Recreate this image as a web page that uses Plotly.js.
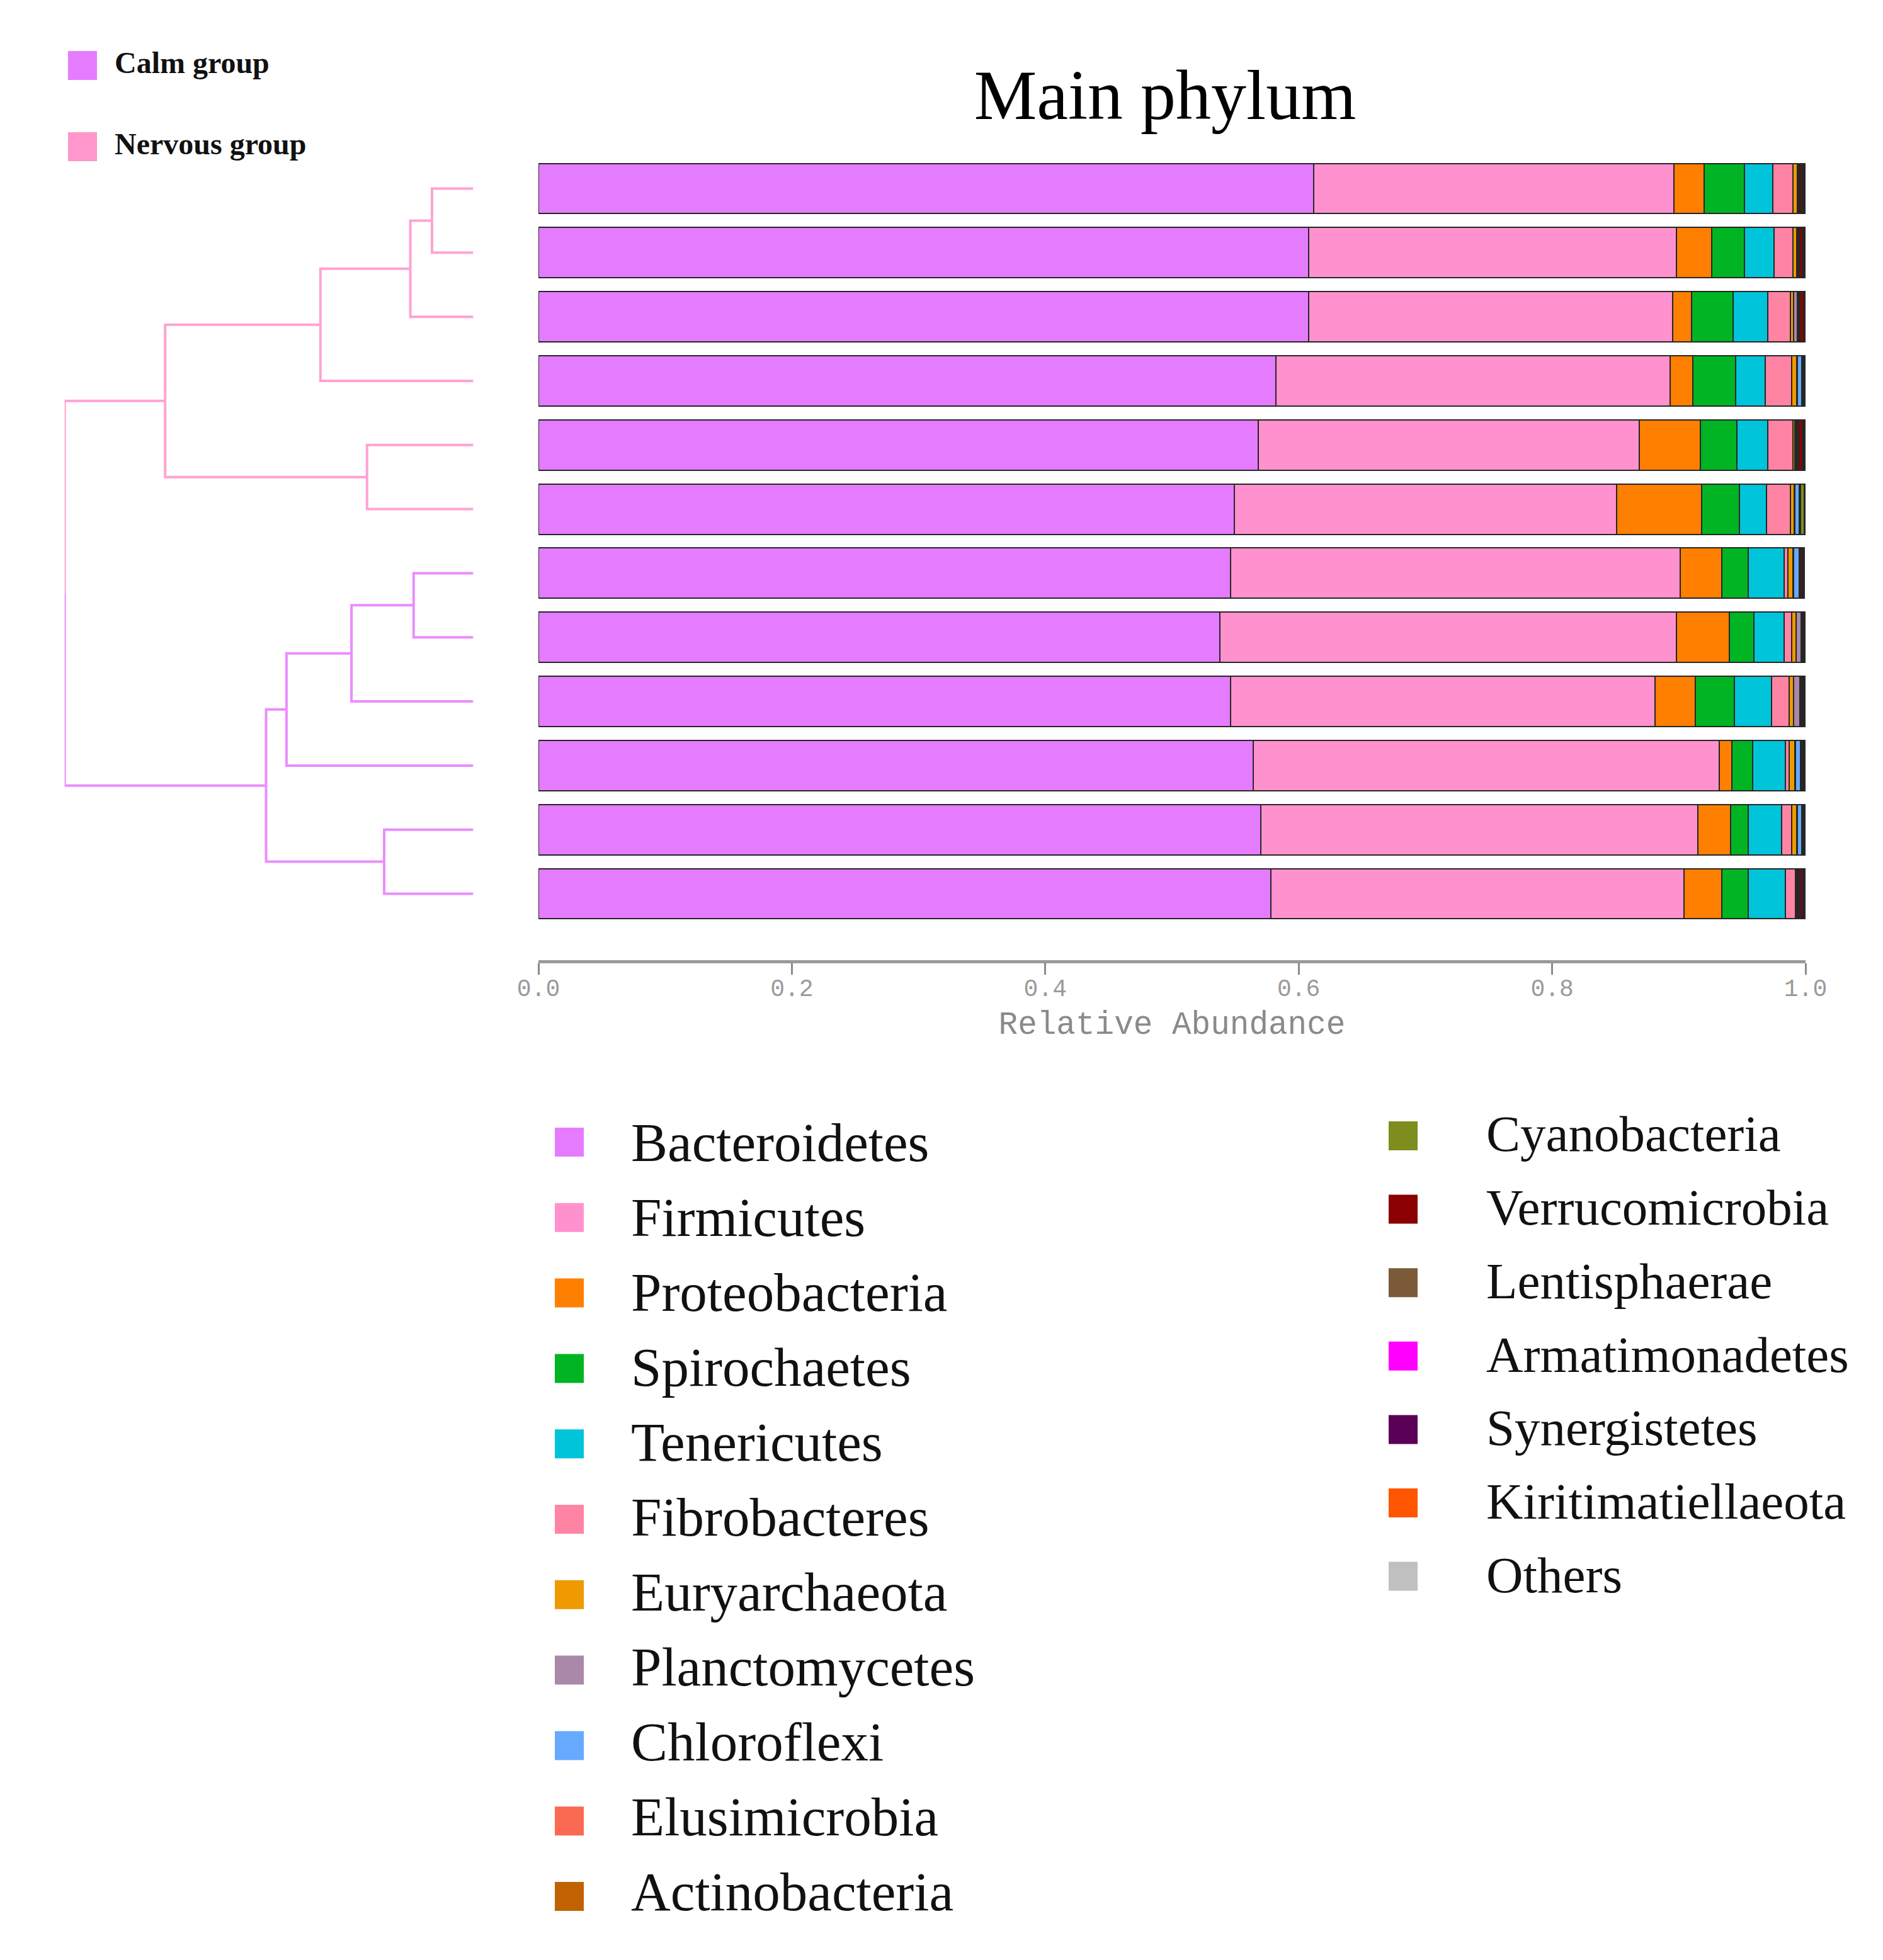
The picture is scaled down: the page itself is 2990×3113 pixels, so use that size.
<!DOCTYPE html>
<html><head><meta charset="utf-8">
<script src="https://cdn.plot.ly/plotly-3.0.1.min.js"></script>
<style>html,body{margin:0;padding:0;background:#fff}</style>
</head><body>
<div id="chart" style="width:2990px;height:3113px"></div>
<script>
// ---------- data ----------
const samples = ['S1','S2','S3','S4','S5','S6','S7','S8','S9','S10','S11','S12'];
const leafGroup = ['Nervous group','Nervous group','Nervous group','Nervous group','Nervous group','Nervous group',
                   'Calm group','Calm group','Calm group','Calm group','Calm group','Calm group'];

const phyla = ['Bacteroidetes','Firmicutes','Proteobacteria','Spirochaetes','Tenericutes','Fibrobacteres',
  'Euryarchaeota','Planctomycetes','Chloroflexi','Elusimicrobia','Actinobacteria','Cyanobacteria',
  'Verrucomicrobia','Lentisphaerae','Armatimonadetes','Synergistetes','Kiritimatiellaeota','Others'];
const phylaColors = ['#E57CFF','#FF92CE','#FF7F00','#00B424','#00C4DA','#FF84A4',
  '#EE9A00','#A988A9','#66AAFF','#FA6A52','#C16200','#7D8E1E',
  '#8B0000','#7B5B3A','#FF00FF','#5B0057','#FF5500','#C0C0C0'];

const bacteroidetes   = [.612,.608,.608,.582,.568,.549,.546,.538,.546,.564,.570,.578];
const firmicutes      = [.284,.290,.287,.311,.301,.302,.355,.360,.335,.368,.345,.326];
const proteobacteria  = [.024,.028,.015,.018,.048,.067,.033,.042,.032,.010,.026,.030];
const spirochaetes    = [.032,.026,.033,.034,.029,.030,.021,.019,.031,.016,.014,.021];
const tenericutes     = [.022,.023,.027,.023,.024,.021,.028,.024,.029,.026,.026,.029];
const fibrobacteres   = [.016,.015,.018,.021,.020,.019,.003,.006,.014,.003,.008,.008];
const euryarchaeota   = [.0033,.0028,.0025,.0040,.0015,.0030,.0040,.0035,.0038,.0045,.0040,.0008];
const planctomycetes  = [.0006,.0005,.0030,.0005,.0008,.0006,.0005,.0040,.0045,.0005,.0004,.0005];
const chloroflexi     = [.0006,.0005,.0005,.0035,.0006,.0035,.0045,.0005,.0005,.0040,.0035,.0005];
const elusimicrobia   = [.0005,.0004,.0005,.0004,.0005,.0004,.0004,.0003,.0004,.0004,.0003,.0004];
const actinobacteria  = [.0006,.0006,.0005,.0004,.0008,.0004,.0005,.0005,.0005,.0005,.0004,.0005];
const cyanobacteria   = [.0003,.0003,.0003,.0002,.0004,.0030,.0003,.0002,.0002,.0003,.0002,.0003];
const verrucomicrobia = [.0018,.0025,.0030,.0006,.0030,.0004,.0011,.0006,.0010,.0010,.0008,.0020];
const lentisphaerae   = [.0004,.0005,.0005,.0003,.0006,.0002,.0003,.0003,.0003,.0003,.0002,.0005];
const armatimonadetes = [.0002,.0001,.0002,.0001,.0001,.0001,.0001,.0001,.0001,.0001,.0001,.0002];
const synergistetes   = [.0010,.0010,.0007,.0005,.0010,.0002,.0010,.0006,.0010,.0008,.0006,.0015];
const kiritimatiellaeota = [.0002,.0002,.0001,.0001,.0002,.0001,.0002,.0001,.0002,.0002,.0001,.0003];
const others          = [.0005,.0006,.0002,.0004,.0005,.0001,.0003,.0003,.0005,.0004,.0004,.0005];

// dendrogram merges: children ids (leaves 0..11, merge k -> id 12+k) and merge heights
const dendroLeft   = [0, 12, 13, 4, 14, 6, 17, 18, 10, 19, 16];
const dendroRight  = [1, 2, 3, 5, 15, 7, 8, 9, 11, 20, 21];
const dendroHeight = [0.101, 0.154, 0.374, 0.260, 0.754, 0.146, 0.298, 0.457, 0.218, 0.507, 1.0];

const tickVals   = [0, 0.2, 0.4, 0.6, 0.8, 1.0];
const tickLabels = ['0.0','0.2','0.4','0.6','0.8','1.0'];

const groupNames  = ['Calm group','Nervous group'];
const groupColors = ['#E57CFF','#FF97CC'];
const groupLineColors = {'Nervous group':'#FFA3D3', 'Calm group':'#EC8CFF'};

// legend split: first column / second column
const legendCol1 = 11;

// ---------- build ----------
const W = 2990, H = 3113;
const series = [bacteroidetes, firmicutes, proteobacteria, spirochaetes, tenericutes, fibrobacteres,
  euryarchaeota, planctomycetes, chloroflexi, elusimicrobia, actinobacteria, cyanobacteria,
  verrucomicrobia, lentisphaerae, armatimonadetes, synergistetes, kiritimatiellaeota, others];

const traces = [];
phyla.forEach((p, i) => {
  traces.push({
    type: 'bar', orientation: 'h', name: p,
    x: series[i], y: samples,
    xaxis: 'x', yaxis: 'y',
    marker: {color: phylaColors[i], line: {color: '#262626', width: 2}},
    hoverinfo: 'skip', showlegend: false
  });
});

// dendrogram geometry from merges
const nL = samples.length;
const posY = samples.map((_, i) => i);
const posH = samples.map(() => 0);
const grp = leafGroup.slice();
const segs = {};
groupNames.forEach(g => segs[g] = {x: [], y: []});
dendroLeft.forEach((a, k) => {
  const b = dendroRight[k], id = nL + k, h = dendroHeight[k];
  posY[id] = (posY[a] + posY[b]) / 2;
  posH[id] = h;
  grp[id] = grp[a];
  [a, b].forEach(c => {
    const s = segs[grp[c]];
    s.x.push(posH[c], h, h, null);
    s.y.push(posY[c], posY[c], posY[id], null);
  });
});
groupNames.forEach(g => {
  traces.push({
    type: 'scatter', mode: 'lines', name: g,
    x: segs[g].x, y: segs[g].y, xaxis: 'x2', yaxis: 'y2',
    line: {color: groupLineColors[g], width: 4},
    hoverinfo: 'skip', showlegend: false
  });
});

// custom legends on a pixel overlay axis
const serif = 'Liberation Serif, Times New Roman, serif';
const col1Idx = phyla.slice(0, legendCol1).map((_, i) => i);
const col2Idx = phyla.slice(legendCol1).map((_, i) => i);
traces.push({
  type: 'scatter', mode: 'markers', xaxis: 'x3', yaxis: 'y3',
  x: col1Idx.map(() => 904), y: col1Idx.map(i => 1814 + i * 119.8),
  marker: {symbol: 'square', size: 46, color: phylaColors.slice(0, legendCol1), line: {width: 0}},
  hoverinfo: 'skip', showlegend: false
});
traces.push({
  type: 'scatter', mode: 'text', xaxis: 'x3', yaxis: 'y3',
  x: col1Idx.map(() => 1002), y: col1Idx.map(i => 1822 + i * 119.0),
  text: phyla.slice(0, legendCol1), textposition: 'middle right',
  textfont: {family: serif, size: 87, color: '#111'},
  hoverinfo: 'skip', showlegend: false
});
traces.push({
  type: 'scatter', mode: 'markers', xaxis: 'x3', yaxis: 'y3',
  x: col2Idx.map(() => 2228), y: col2Idx.map(i => 1804 + i * 116.6),
  marker: {symbol: 'square', size: 46, color: phylaColors.slice(legendCol1), line: {width: 0}},
  hoverinfo: 'skip', showlegend: false
});
traces.push({
  type: 'scatter', mode: 'text', xaxis: 'x3', yaxis: 'y3',
  x: col2Idx.map(() => 2360), y: col2Idx.map(i => 1808 + i * 116.8),
  text: phyla.slice(legendCol1), textposition: 'middle right',
  textfont: {family: serif, size: 81, color: '#111'},
  hoverinfo: 'skip', showlegend: false
});
// group legend
const groupRows = groupNames.map((_, i) => 104 + i * 129);
traces.push({
  type: 'scatter', mode: 'markers', xaxis: 'x3', yaxis: 'y3',
  x: groupNames.map(() => 131), y: groupRows,
  marker: {symbol: 'square', size: 46, color: groupColors, line: {width: 0}},
  hoverinfo: 'skip', showlegend: false
});
traces.push({
  type: 'scatter', mode: 'text', xaxis: 'x3', yaxis: 'y3',
  x: groupNames.map(() => 182), y: groupRows,
  text: groupNames, textposition: 'middle right',
  textfont: {family: serif, size: 48, color: '#111', weight: 'bold'},
  hoverinfo: 'skip', showlegend: false
});

const yDom = [1 - 1525 / H, 1 - 248.6 / H];
const yRange = [12.036, -0.5];
const mono = 'Liberation Mono, Courier New, monospace';

const layout = {
  width: W, height: H,
  margin: {l: 0, r: 0, t: 0, b: 0, pad: 0},
  paper_bgcolor: '#ffffff', plot_bgcolor: 'rgba(0,0,0,0)',
  showlegend: false, hovermode: false,
  barmode: 'stack', bargap: 0.215,
  title: {
    text: 'Main phylum',
    font: {family: serif, size: 112, color: '#000'},
    x: 1850 / W, xanchor: 'center', xref: 'paper',
    y: 1 - 150 / H, yanchor: 'middle', yref: 'container'
  },
  xaxis: {
    domain: [855 / W, 2867 / W], range: [0, 1], anchor: 'y',
    tickmode: 'array', tickvals: tickVals, ticktext: tickLabels,
    tickfont: {family: mono, size: 38, color: '#9a9a9a'},
    ticks: 'outside', ticklen: 18, tickwidth: 3, tickcolor: '#8a8a8a',
    ticklabelstandoff: -12,
    showline: true, linecolor: '#9a9a9a', linewidth: 5,
    showgrid: false, zeroline: false, fixedrange: true,
    title: {text: 'Relative Abundance', font: {family: mono, size: 51, color: '#8a8a8a'}, standoff: 16}
  },
  yaxis: {
    domain: yDom, range: yRange, type: 'category', categoryarray: samples, categoryorder: 'array',
    anchor: 'x', showline: false, showticklabels: false, ticks: '', showgrid: false, zeroline: false, fixedrange: true
  },
  xaxis2: {
    domain: [102.6 / W, 751.5 / W], range: [1, 0], anchor: 'y2',
    visible: false, showgrid: false, zeroline: false, fixedrange: true
  },
  yaxis2: {
    domain: yDom, range: yRange, anchor: 'x2',
    visible: false, showgrid: false, zeroline: false, fixedrange: true
  },
  xaxis3: {domain: [0, 1], range: [0, W], anchor: 'y3', visible: false, fixedrange: true},
  yaxis3: {domain: [0, 1], range: [H, 0], anchor: 'x3', visible: false, fixedrange: true}
};

Plotly.newPlot('chart', traces, layout, {displayModeBar: false, staticPlot: true});
</script>
</body></html>
